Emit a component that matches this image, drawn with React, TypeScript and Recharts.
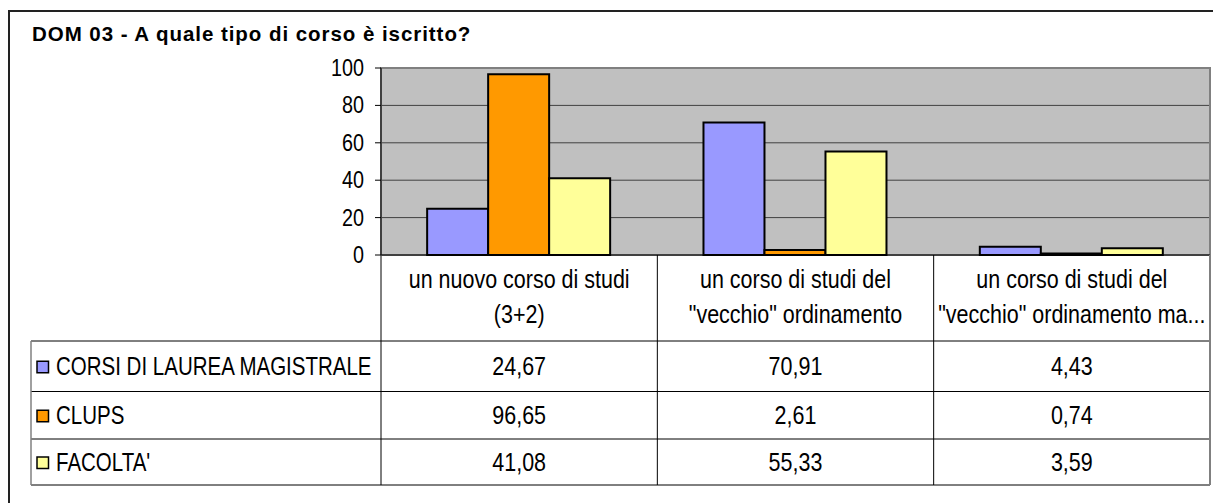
import React from 'react';
import { BarChart, Bar, XAxis, YAxis, CartesianGrid, Customized } from 'recharts';

const title = 'DOM 03 - A quale tipo di corso è iscritto?';
const categories = ['un nuovo corso di studi (3+2)', 'un corso di studi del "vecchio" ordinamento', 'un corso di studi del "vecchio" ordinamento ma...'];
const categoryLines = [
  ['un nuovo corso di studi', '(3+2)'],
  ['un corso di studi del', '"vecchio" ordinamento'],
  ['un corso di studi del', '"vecchio" ordinamento ma...'],
];
const seriesNames = ['CORSI DI LAUREA MAGISTRALE', 'CLUPS', "FACOLTA'"];
const seriesKeys = ['corsi', 'clups', 'facolta'];
const seriesColors = ['#9999FF', '#FF9900', '#FFFF99'];
const corsiValues = [24.67, 70.91, 4.43];
const clupsValues = [96.65, 2.61, 0.74];
const facoltaValues = [41.08, 55.33, 3.59];
const yTicks = [0, 20, 40, 60, 80, 100];

const seriesValues = [corsiValues, clupsValues, facoltaValues];
const data = categories.map((c, i) => ({
  cat: c,
  corsi: corsiValues[i],
  clups: clupsValues[i],
  facolta: facoltaValues[i],
}));

const W = 1213;
const H = 503;
const PLOT_LEFT = 381;
const PLOT_TOP = 68;
const PLOT_RIGHT = 1210;
const PLOT_BOTTOM = 255;
const TABLE_LEFT = 31;
const ROW_LINES = [341, 391.5, 439, 485];
const FONT = '"Liberation Sans", Arial, sans-serif';

const fmt = (v: number) => v.toFixed(2).replace('.', ',');

function SText({ x, y, size, sx, anchor, children, weight }: any) {
  return (
    <text
      transform={`translate(${x},${y}) scale(${sx},1)`}
      x={0}
      y={0}
      textAnchor={anchor || 'start'}
      fontSize={size}
      fontFamily={FONT}
      fontWeight={weight || 'normal'}
      fill="#000"
    >
      {children}
    </text>
  );
}

function YTick(props: any) {
  const { x, y, payload } = props;
  return (
    <SText x={x} y={y + 8} size={23} sx={0.86} anchor="end">
      {payload.value}
    </SText>
  );
}

function TableTick(props: any) {
  const { x, index } = props;
  const band = (PLOT_RIGHT - PLOT_LEFT) / categories.length;
  const lines = categoryLines[index] || [];
  const right = x + band / 2;
  return (
    <g>
      {lines.map((l, i) => (
        <SText key={i} x={x} y={288 + i * 35} size={25} sx={0.86} anchor="middle">
          {l}
        </SText>
      ))}
      {seriesValues.map((vals, r) => {
        const cy = (ROW_LINES[r] + ROW_LINES[r + 1]) / 2;
        return (
          <SText key={'v' + r} x={x} y={cy + 9} size={25} sx={0.86} anchor="middle">
            {fmt(vals[index])}
          </SText>
        );
      })}
      <line
        x1={right}
        y1={PLOT_BOTTOM}
        x2={right}
        y2={ROW_LINES[3]}
        stroke={index === categories.length - 1 ? '#808080' : '#000'}
        strokeWidth={index === categories.length - 1 ? 2 : 1}
      />
    </g>
  );
}

function Decorations() {
  return (
    <g>
      <rect x={9} y={11} width={W + 10} height={H + 10} fill="none" stroke="#222" strokeWidth={2} />
      <text x={32} y={41} fontSize={20.5} fontWeight="bold" fontFamily={FONT} fill="#000" letterSpacing={0.95}>
        {title}
      </text>
      {ROW_LINES.map((y, i) => (
        <line key={i} x1={TABLE_LEFT} y1={y} x2={PLOT_RIGHT} y2={y} stroke="#000" strokeWidth={1} />
      ))}
      <line x1={TABLE_LEFT} y1={ROW_LINES[0]} x2={TABLE_LEFT} y2={ROW_LINES[3]} stroke="#808080" strokeWidth={1.5} />
      <line x1={PLOT_LEFT} y1={PLOT_BOTTOM} x2={PLOT_LEFT} y2={ROW_LINES[3]} stroke="#000" strokeWidth={1} />
      {seriesNames.map((n, r) => {
        const cy = (ROW_LINES[r] + ROW_LINES[r + 1]) / 2;
        return (
          <g key={n}>
            <rect x={37} y={cy - 5} width={11.5} height={11.5} fill={seriesColors[r]} stroke="#000" strokeWidth={1.5} />
            <SText x={56} y={cy + 9} size={25} sx={0.82}>
              {n}
            </SText>
          </g>
        );
      })}
      <rect
        x={PLOT_LEFT}
        y={PLOT_TOP}
        width={PLOT_RIGHT - PLOT_LEFT}
        height={PLOT_BOTTOM - PLOT_TOP}
        fill="none"
        stroke="#808080"
        strokeWidth={2}
      />
    </g>
  );
}

export default function App() {
  return (
    <div style={{ width: W, height: H, background: '#fff' }}>
      <style>{'body{margin:0}'}</style>
      <BarChart
        width={W}
        height={H}
        data={data}
        margin={{ top: PLOT_TOP, right: W - PLOT_RIGHT, left: PLOT_LEFT - 60, bottom: H - PLOT_BOTTOM - 230 }}
        barCategoryGap="16.7%"
        barGap={0}
      >
        <CartesianGrid vertical={false} stroke="#404040" fill="#C0C0C0" fillOpacity={1} />
        <Customized component={Decorations} />
        <XAxis
          dataKey="cat"
          height={230}
          tickLine={false}
          axisLine={{ stroke: '#000', strokeWidth: 1 }}
          tick={<TableTick />}
          interval={0}
        />
        <YAxis
          width={60}
          domain={[0, 100]}
          ticks={yTicks}
          tickLine={{ stroke: '#000' }}
          tickSize={6}
          tickMargin={11}
          axisLine={{ stroke: '#000', strokeWidth: 1 }}
          tick={<YTick />}
        />
        {seriesKeys.map((k, i) => (
          <Bar key={k} dataKey={k} name={seriesNames[i]} fill={seriesColors[i]} stroke="#000" strokeWidth={2} isAnimationActive={false} />
        ))}
      </BarChart>
    </div>
  );
}
